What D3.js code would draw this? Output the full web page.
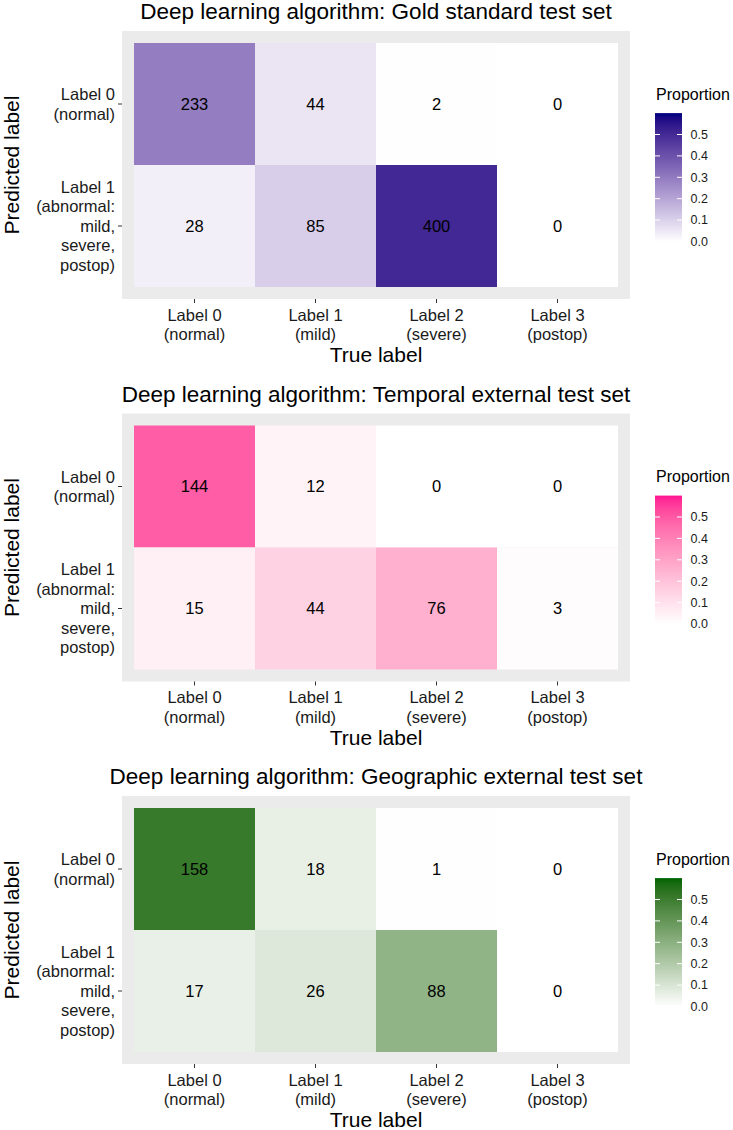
<!DOCTYPE html>
<html><head><meta charset="utf-8">
<script src="https://cdn.jsdelivr.net/npm/d3@7"></script>
<style>
html,body{margin:0;padding:0;background:#fff;}
svg{display:block;font-family:"Liberation Sans",Arial,Helvetica,sans-serif;}
</style></head>
<body>
<svg id="chart" width="733" height="1130"></svg>
<script>
// ---- data ----
const trueLabels = ["Label 0\n(normal)", "Label 1\n(mild)", "Label 2\n(severe)", "Label 3\n(postop)"];
const predLabels = ["Label 0\n(normal)", "Label 1\n(abnormal:\nmild,\nsevere,\npostop)"];
const titles = [
  "Deep learning algorithm: Gold standard test set",
  "Deep learning algorithm: Temporal external test set",
  "Deep learning algorithm: Geographic external test set"
];
const goldRow0 = [233, 44, 2, 0];
const goldRow1 = [28, 85, 400, 0];
const temporalRow0 = [144, 12, 0, 0];
const temporalRow1 = [15, 44, 76, 3];
const geoRow0 = [158, 18, 1, 0];
const geoRow1 = [17, 26, 88, 0];
const highColors = ["#000080", "#FF1493", "#006400"]; // navy, deeppink, darkgreen
const legendTicks = [0.0, 0.1, 0.2, 0.3, 0.4, 0.5];
const propLimit = 0.6;

const panels = [
  {title: titles[0], rows: [goldRow0, goldRow1], high: highColors[0]},
  {title: titles[1], rows: [temporalRow0, temporalRow1], high: highColors[1]},
  {title: titles[2], rows: [geoRow0, geoRow1], high: highColors[2]}
];

const svg = d3.select("#chart");
const panelLeft = 122, panelRight = 630;
const pad = 12;
const lineH = 19.5;
const textCol = "#1a1a1a";

panels.forEach((p, k) => {
  const G = 31 + k * 382.5;
  const g = svg.append("g");
  const total = d3.sum(p.rows.flat());
  const x = d3.scaleBand().domain(trueLabels).range([panelLeft + pad, panelRight - pad]);
  const y = d3.scaleBand().domain(predLabels).range([G + pad, G + 256]);
  const color = d3.scaleLinear().domain([0, propLimit]).range(["#ffffff", p.high])
    .interpolate(d3.interpolateLab).clamp(true);

  // title
  g.append("text").attr("x", (panelLeft + panelRight) / 2).attr("y", G - 19.5)
    .attr("dy", "0.35em").attr("text-anchor", "middle")
    .style("font-size", "22.5px").style("fill", "#000").text(p.title);

  // panel background
  g.append("rect").attr("x", panelLeft).attr("y", G)
    .attr("width", panelRight - panelLeft).attr("height", 268).attr("fill", "#EBEBEB");

  // tiles
  const cells = [];
  p.rows.forEach((row, ri) => row.forEach((v, ci) => cells.push({r: predLabels[ri], c: trueLabels[ci], v: v})));
  g.selectAll("rect.tile").data(cells).enter().append("rect").attr("class", "tile")
    .attr("x", d => x(d.c)).attr("y", d => y(d.r))
    .attr("width", x.bandwidth()).attr("height", y.bandwidth())
    .attr("fill", d => color(d.v / total));
  g.selectAll("text.cell").data(cells).enter().append("text").attr("class", "cell")
    .attr("x", d => x(d.c) + x.bandwidth() / 2).attr("y", d => y(d.r) + y.bandwidth() / 2)
    .attr("dy", "0.36em").attr("text-anchor", "middle")
    .style("font-size", "16.5px").style("fill", "#000").text(d => d.v);

  // x axis
  const xa = g.append("g").attr("transform", `translate(0,${G + 268})`)
    .call(d3.axisBottom(x).tickSize(4).tickSizeOuter(0));
  xa.select(".domain").remove();
  xa.selectAll(".tick line").attr("stroke", "#333");
  xa.selectAll(".tick text").each(function(d) {
    const t = d3.select(this).text(null).attr("y", 0).attr("dy", null)
      .style("font-size", "16.5px").style("fill", textCol).attr("font-family", null);
    d.split("\n").forEach((ln, i) => {
      t.append("tspan").attr("x", 0).attr("y", 16 + i * lineH).attr("dy", "0.35em").text(ln);
    });
  });

  // y axis
  const ya = g.append("g").attr("transform", `translate(${panelLeft},0)`)
    .call(d3.axisLeft(y).tickSize(4).tickSizeOuter(0));
  ya.select(".domain").remove();
  ya.selectAll(".tick line").attr("stroke", "#333");
  ya.selectAll(".tick text").each(function(d) {
    const lines = d.split("\n");
    const t = d3.select(this).text(null).attr("x", -7).attr("dy", null)
      .style("font-size", "16.5px").style("fill", textCol).attr("font-family", null);
    lines.forEach((ln, i) => {
      t.append("tspan").attr("x", -7).attr("y", (i - (lines.length - 1) / 2) * lineH)
        .attr("dy", "0.35em").text(ln);
    });
  });

  // axis titles
  g.append("text").attr("x", (panelLeft + panelRight) / 2).attr("y", G + 324)
    .attr("dy", "0.35em").attr("text-anchor", "middle")
    .style("font-size", "21px").style("fill", "#000").text("True label");
  g.append("text").attr("transform", `translate(12,${G + 134}) rotate(-90)`)
    .attr("dy", "0.35em").attr("text-anchor", "middle")
    .style("font-size", "21px").style("fill", "#000").text("Predicted label");

  // legend
  const lx = 655, lw = 27;
  const ls = d3.scaleLinear().domain([0, propLimit]).range([G + 210.5, G + 210.5 - 128.4]);
  const gid = "grad" + k;
  const grad = svg.append("defs").append("linearGradient").attr("id", gid)
    .attr("x1", 0).attr("y1", 1).attr("x2", 0).attr("y2", 0);
  d3.range(0, 1.0001, 0.05).forEach(s => {
    grad.append("stop").attr("offset", s).attr("stop-color", color(s * propLimit));
  });
  g.append("text").attr("x", lx + 1).attr("y", G + 63).attr("dy", "0.35em")
    .style("font-size", "16px").style("fill", "#000").text("Proportion");
  g.append("rect").attr("x", lx).attr("y", ls(propLimit)).attr("width", lw)
    .attr("height", ls(0) - ls(propLimit)).attr("fill", `url(#${gid})`);
  const lt = g.selectAll("g.lt").data(legendTicks).enter().append("g").attr("class", "lt");
  lt.append("line").attr("x1", lx).attr("x2", lx + 5).attr("y1", d => ls(d)).attr("y2", d => ls(d))
    .attr("stroke", "#fff").attr("stroke-width", 1);
  lt.append("line").attr("x1", lx + lw - 5).attr("x2", lx + lw).attr("y1", d => ls(d)).attr("y2", d => ls(d))
    .attr("stroke", "#fff").attr("stroke-width", 1);
  lt.append("text").attr("x", 690.5).attr("y", d => ls(d)).attr("dy", "0.35em")
    .style("font-size", "12.5px").style("fill", textCol).text(d => d.toFixed(1));
});
</script>
</body></html>
